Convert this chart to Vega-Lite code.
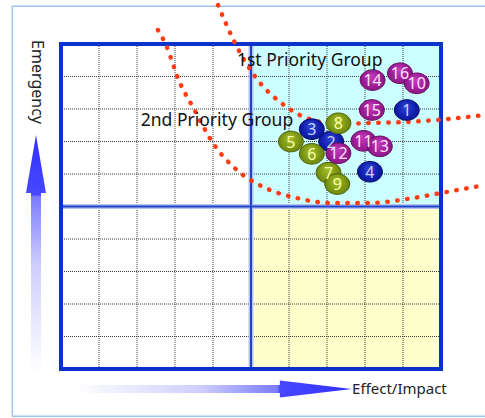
{
  "$schema": "https://vega.github.io/schema/vega-lite/v6.json",
  "width": 380,
  "height": 325,
  "autosize": {"type": "none"},
  "padding": {"left": 61, "top": 44, "right": 44, "bottom": 49},
  "background": "white",
  "config": {"view": {"stroke": null}, "font": "Noto Sans"},
  "datasets": {
    "quadrants": [
      {"x": 5, "x2": 10, "y": 5, "y2": 10, "zone": "first"},
      {"x": 5, "x2": 10, "y": 0, "y2": 5, "zone": "effect"}
    ],
    "grid": [{"v": 1}, {"v": 2}, {"v": 3}, {"v": 4}, {"v": 6}, {"v": 7}, {"v": 8}, {"v": 9}],
    "mid": [{"v": 5}],
    "box": [{"x": 0, "x2": 10, "y": 0, "y2": 10}],
    "outer": [{"x": -1.28, "x2": 11.3, "y": 11.16, "y2": -1.45}],
    "curves": [
      {"curve": "first", "x": 4.13, "y": 11.2},
      {"curve": "first", "x": 4.63, "y": 9.91},
      {"curve": "first", "x": 5.24, "y": 8.8},
      {"curve": "first", "x": 5.76, "y": 8.22},
      {"curve": "first", "x": 6.47, "y": 7.72},
      {"curve": "first", "x": 7.34, "y": 7.54},
      {"curve": "first", "x": 8.13, "y": 7.57},
      {"curve": "first", "x": 9.1, "y": 7.6},
      {"curve": "first", "x": 10.16, "y": 7.69},
      {"curve": "first", "x": 11.16, "y": 7.82},
      {"curve": "second", "x": 2.55, "y": 10.43},
      {"curve": "second", "x": 2.74, "y": 10.03},
      {"curve": "second", "x": 3.13, "y": 8.8},
      {"curve": "second", "x": 3.47, "y": 8.06},
      {"curve": "second", "x": 4.0, "y": 6.95},
      {"curve": "second", "x": 4.63, "y": 6.12},
      {"curve": "second", "x": 5.32, "y": 5.6},
      {"curve": "second", "x": 6.21, "y": 5.26},
      {"curve": "second", "x": 7.08, "y": 5.11},
      {"curve": "second", "x": 8.13, "y": 5.11},
      {"curve": "second", "x": 9.26, "y": 5.26},
      {"curve": "second", "x": 10.16, "y": 5.45},
      {"curve": "second", "x": 11.16, "y": 5.66}
    ],
    "items": [
      {"id": "2", "x": 7.11, "y": 7.0, "grp": "navy"},
      {"id": "1", "x": 9.1, "y": 7.97, "grp": "navy"},
      {"id": "3", "x": 6.6, "y": 7.38, "grp": "navy"},
      {"id": "4", "x": 8.13, "y": 6.07, "grp": "navy"},
      {"id": "5", "x": 6.05, "y": 7.0, "grp": "olive"},
      {"id": "6", "x": 6.6, "y": 6.62, "grp": "olive"},
      {"id": "7", "x": 7.04, "y": 6.04, "grp": "olive"},
      {"id": "8", "x": 7.3, "y": 7.56, "grp": "olive"},
      {"id": "9", "x": 7.27, "y": 5.69, "grp": "olive"},
      {"id": "16", "x": 8.92, "y": 9.1, "grp": "magenta"},
      {"id": "10", "x": 9.36, "y": 8.79, "grp": "magenta"},
      {"id": "11", "x": 7.96, "y": 7.02, "grp": "magenta"},
      {"id": "12", "x": 7.3, "y": 6.64, "grp": "magenta"},
      {"id": "13", "x": 8.39, "y": 6.85, "grp": "magenta"},
      {"id": "14", "x": 8.2, "y": 8.89, "grp": "magenta"},
      {"id": "15", "x": 8.18, "y": 7.97, "grp": "magenta"}
    ],
    "groupLabels": [
      {"text": "1st Priority Group", "x": 4.63, "y": 9.48},
      {"text": "2nd Priority Group", "x": 2.1, "y": 7.63}
    ],
    "hArrow": [{"x": 4.01, "y": -0.615}],
    "vArrow": [{"x": -0.658, "y": 3.54}],
    "hTitle": [{"text": "Effect/Impact", "x": 7.66, "y": -0.615}],
    "vTitle": [{"text": "Emergency", "x": -0.63, "y": 10.12}]
  },
  "layer": [
    {
      "data": {"name": "outer"},
      "mark": {"type": "rect", "fill": null, "stroke": "#9cc4ee", "strokeWidth": 1.5, "clip": false},
      "encoding": {
        "x": {"field": "x", "type": "quantitative", "scale": {"domain": [0, 10], "nice": false, "zero": false}, "axis": null},
        "x2": {"field": "x2"},
        "y": {"field": "y", "type": "quantitative", "scale": {"domain": [0, 10], "nice": false, "zero": false}, "axis": null},
        "y2": {"field": "y2"}
      }
    },
    {
      "data": {"name": "quadrants"},
      "mark": {"type": "rect"},
      "encoding": {
        "x": {"field": "x", "type": "quantitative", "scale": {"domain": [0, 10], "nice": false, "zero": false}, "axis": null},
        "x2": {"field": "x2"},
        "y": {"field": "y", "type": "quantitative", "scale": {"domain": [0, 10], "nice": false, "zero": false}, "axis": null},
        "y2": {"field": "y2"},
        "fill": {"field": "zone", "type": "nominal", "scale": {"domain": ["first", "effect"], "range": ["#ccffff", "#ffffcc"]}, "legend": null}
      }
    },
    {
      "data": {"name": "grid"},
      "mark": {"type": "rule", "stroke": "#3a3a3a", "strokeWidth": 1, "strokeDash": [1, 1]},
      "encoding": {
        "x": {"field": "v", "type": "quantitative", "scale": {"domain": [0, 10], "nice": false, "zero": false}, "axis": null}
      }
    },
    {
      "data": {"name": "grid"},
      "mark": {"type": "rule", "stroke": "#3a3a3a", "strokeWidth": 1, "strokeDash": [1, 1]},
      "encoding": {
        "y": {"field": "v", "type": "quantitative", "scale": {"domain": [0, 10], "nice": false, "zero": false}, "axis": null}
      }
    },
    {
      "data": {"name": "mid"},
      "mark": {"type": "rule", "stroke": "#b4c2ee", "strokeWidth": 5},
      "encoding": {
        "x": {"field": "v", "type": "quantitative", "scale": {"domain": [0, 10], "nice": false, "zero": false}, "axis": null}
      }
    },
    {
      "data": {"name": "mid"},
      "mark": {"type": "rule", "stroke": "#b4c2ee", "strokeWidth": 5},
      "encoding": {
        "y": {"field": "v", "type": "quantitative", "scale": {"domain": [0, 10], "nice": false, "zero": false}, "axis": null}
      }
    },
    {
      "data": {"name": "mid"},
      "mark": {"type": "rule", "stroke": "#1f44cc", "strokeWidth": 2},
      "encoding": {
        "x": {"field": "v", "type": "quantitative", "scale": {"domain": [0, 10], "nice": false, "zero": false}, "axis": null}
      }
    },
    {
      "data": {"name": "mid"},
      "mark": {"type": "rule", "stroke": "#1f44cc", "strokeWidth": 2},
      "encoding": {
        "y": {"field": "v", "type": "quantitative", "scale": {"domain": [0, 10], "nice": false, "zero": false}, "axis": null}
      }
    },
    {
      "data": {"name": "box"},
      "mark": {"type": "rect", "fill": null, "stroke": "#0a33cc", "strokeWidth": 4},
      "encoding": {
        "x": {"field": "x", "type": "quantitative", "scale": {"domain": [0, 10], "nice": false, "zero": false}, "axis": null},
        "x2": {"field": "x2"},
        "y": {"field": "y", "type": "quantitative", "scale": {"domain": [0, 10], "nice": false, "zero": false}, "axis": null},
        "y2": {"field": "y2"}
      }
    },
    {
      "data": {"name": "curves"},
      "mark": {"type": "line", "interpolate": "monotone", "stroke": "#ff3d14", "strokeWidth": 4.5, "strokeCap": "round", "strokeDash": [0.5, 9.5], "clip": false},
      "encoding": {
        "x": {"field": "x", "type": "quantitative", "scale": {"domain": [0, 10], "nice": false, "zero": false}, "axis": null},
        "y": {"field": "y", "type": "quantitative", "scale": {"domain": [0, 10], "nice": false, "zero": false}, "axis": null},
        "detail": {"field": "curve", "type": "nominal"}
      }
    },
    {
      "data": {"name": "hArrow"},
      "mark": {
        "type": "point", "filled": true, "opacity": 1, "strokeWidth": 0, "size": 76729,
        "shape": "M-1,-0.029 L0.48,-0.029 L0.48,-0.061 L1,0 L0.48,0.061 L0.48,0.029 L-1,0.029 Z",
        "fill": {"gradient": "linear", "x1": 0, "y1": 0, "x2": 1, "y2": 0,
          "stops": [{"offset": 0, "color": "#ffffff"}, {"offset": 0.45, "color": "#cfcfff"}, {"offset": 0.73, "color": "#7c7cff"}, {"offset": 0.74, "color": "#4848ff"}, {"offset": 1, "color": "#3030ff"}]}
      },
      "encoding": {
        "x": {"field": "x", "type": "quantitative", "scale": {"domain": [0, 10], "nice": false, "zero": false}, "axis": null},
        "y": {"field": "y", "type": "quantitative", "scale": {"domain": [0, 10], "nice": false, "zero": false}, "axis": null}
      }
    },
    {
      "data": {"name": "vArrow"},
      "mark": {
        "type": "point", "filled": true, "opacity": 1, "strokeWidth": 0, "size": 56644,
        "shape": "M-0.042,1 L-0.042,-0.513 L-0.084,-0.513 L0,-1 L0.084,-0.513 L0.042,-0.513 L0.042,1 Z",
        "fill": {"gradient": "linear", "x1": 0, "y1": 1, "x2": 0, "y2": 0,
          "stops": [{"offset": 0, "color": "#ffffff"}, {"offset": 0.45, "color": "#cfcfff"}, {"offset": 0.74, "color": "#7c7cff"}, {"offset": 0.75, "color": "#4848ff"}, {"offset": 1, "color": "#3030ff"}]}
      },
      "encoding": {
        "x": {"field": "x", "type": "quantitative", "scale": {"domain": [0, 10], "nice": false, "zero": false}, "axis": null},
        "y": {"field": "y", "type": "quantitative", "scale": {"domain": [0, 10], "nice": false, "zero": false}, "axis": null}
      }
    },
    {
      "data": {"name": "items"},
      "transform": [{"filter": {"field": "grp", "equal": "navy"}}],
      "mark": {"type": "point", "filled": true, "opacity": 1, "size": 620, "strokeWidth": 1, "stroke": "#060b66",
        "shape": "M-1,0 A1,0.83 0 1,0 1,0 A1,0.83 0 1,0 -1,0 Z",
        "fill": {"gradient": "radial", "x1": 0.45, "y1": 0.35, "r1": 0, "x2": 0.5, "y2": 0.5, "r2": 0.6,
          "stops": [{"offset": 0, "color": "#3444d6"}, {"offset": 0.55, "color": "#1222b0"}, {"offset": 1, "color": "#060e86"}]}},
      "encoding": {
        "x": {"field": "x", "type": "quantitative", "scale": {"domain": [0, 10], "nice": false, "zero": false}, "axis": null},
        "y": {"field": "y", "type": "quantitative", "scale": {"domain": [0, 10], "nice": false, "zero": false}, "axis": null}
      }
    },
    {
      "data": {"name": "items"},
      "transform": [{"filter": {"field": "grp", "equal": "olive"}}],
      "mark": {"type": "point", "filled": true, "opacity": 1, "size": 620, "strokeWidth": 1, "stroke": "#4f5f08",
        "shape": "M-1,0 A1,0.83 0 1,0 1,0 A1,0.83 0 1,0 -1,0 Z",
        "fill": {"gradient": "radial", "x1": 0.45, "y1": 0.35, "r1": 0, "x2": 0.5, "y2": 0.5, "r2": 0.6,
          "stops": [{"offset": 0, "color": "#a6c02c"}, {"offset": 0.55, "color": "#7e9914"}, {"offset": 1, "color": "#5e7408"}]}},
      "encoding": {
        "x": {"field": "x", "type": "quantitative", "scale": {"domain": [0, 10], "nice": false, "zero": false}, "axis": null},
        "y": {"field": "y", "type": "quantitative", "scale": {"domain": [0, 10], "nice": false, "zero": false}, "axis": null}
      }
    },
    {
      "data": {"name": "items"},
      "transform": [{"filter": {"field": "grp", "equal": "magenta"}}],
      "mark": {"type": "point", "filled": true, "opacity": 1, "size": 620, "strokeWidth": 1, "stroke": "#641060",
        "shape": "M-1,0 A1,0.83 0 1,0 1,0 A1,0.83 0 1,0 -1,0 Z",
        "fill": {"gradient": "radial", "x1": 0.45, "y1": 0.35, "r1": 0, "x2": 0.5, "y2": 0.5, "r2": 0.6,
          "stops": [{"offset": 0, "color": "#c43ebc"}, {"offset": 0.55, "color": "#9f1e98"}, {"offset": 1, "color": "#7a1276"}]}},
      "encoding": {
        "x": {"field": "x", "type": "quantitative", "scale": {"domain": [0, 10], "nice": false, "zero": false}, "axis": null},
        "y": {"field": "y", "type": "quantitative", "scale": {"domain": [0, 10], "nice": false, "zero": false}, "axis": null}
      }
    },
    {
      "data": {"name": "items"},
      "mark": {"type": "text", "fontSize": 16, "align": "center", "baseline": "middle", "dy": 1},
      "encoding": {
        "x": {"field": "x", "type": "quantitative", "scale": {"domain": [0, 10], "nice": false, "zero": false}, "axis": null},
        "y": {"field": "y", "type": "quantitative", "scale": {"domain": [0, 10], "nice": false, "zero": false}, "axis": null},
        "text": {"field": "id"},
        "color": {"field": "grp", "type": "nominal", "scale": {"domain": ["navy", "olive", "magenta"], "range": ["#c8d6ff", "#fbffa8", "#ffe4fb"]}, "legend": null}
      }
    },
    {
      "data": {"name": "groupLabels"},
      "mark": {"type": "text", "fontSize": 17.5, "align": "left", "baseline": "middle", "color": "#111111"},
      "encoding": {
        "x": {"field": "x", "type": "quantitative", "scale": {"domain": [0, 10], "nice": false, "zero": false}, "axis": null},
        "y": {"field": "y", "type": "quantitative", "scale": {"domain": [0, 10], "nice": false, "zero": false}, "axis": null},
        "text": {"field": "text"}
      }
    },
    {
      "data": {"name": "hTitle"},
      "mark": {"type": "text", "fontSize": 15, "align": "left", "baseline": "middle", "color": "#222222"},
      "encoding": {
        "x": {"field": "x", "type": "quantitative", "scale": {"domain": [0, 10], "nice": false, "zero": false}, "axis": null},
        "y": {"field": "y", "type": "quantitative", "scale": {"domain": [0, 10], "nice": false, "zero": false}, "axis": null},
        "text": {"field": "text"}
      }
    },
    {
      "data": {"name": "vTitle"},
      "mark": {"type": "text", "fontSize": 16, "align": "left", "baseline": "middle", "angle": 90, "color": "#222222"},
      "encoding": {
        "x": {"field": "x", "type": "quantitative", "scale": {"domain": [0, 10], "nice": false, "zero": false}, "axis": null},
        "y": {"field": "y", "type": "quantitative", "scale": {"domain": [0, 10], "nice": false, "zero": false}, "axis": null},
        "text": {"field": "text"}
      }
    }
  ]
}
